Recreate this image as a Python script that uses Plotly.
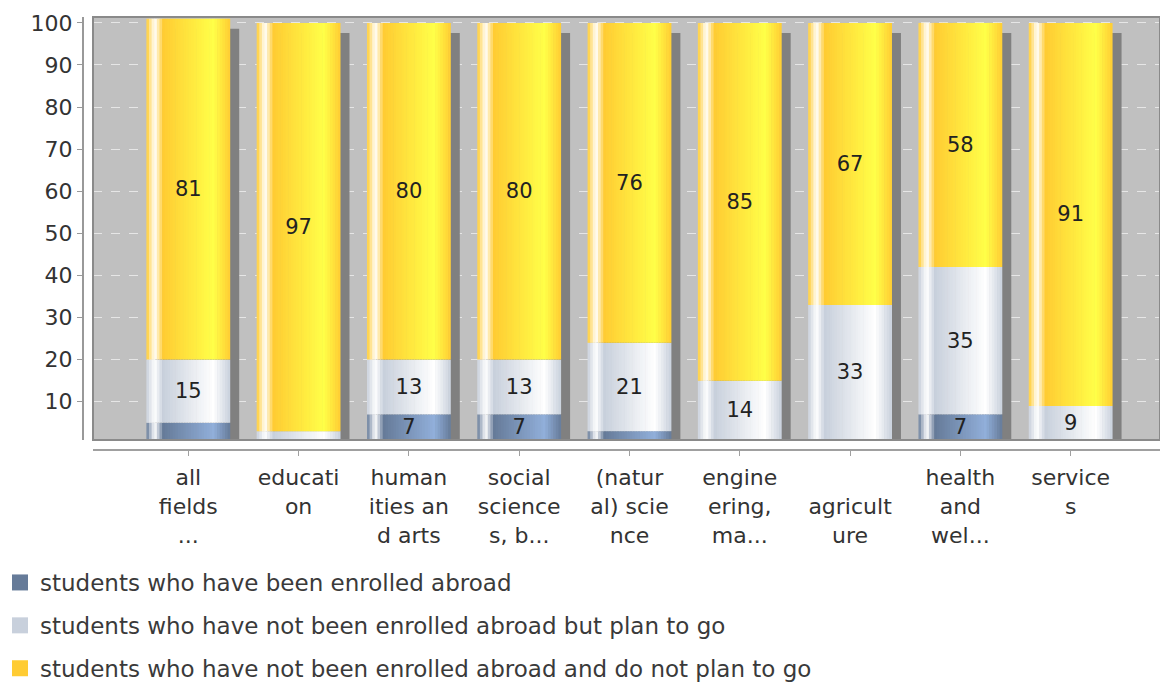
import plotly.graph_objects as go

# ---------------- data ----------------
categories = ["all fields ...", "education", "humanities and arts", "social sciences, b...",
              "(natural) science", "engineering, ma...", "agriculture", "health and wel...", "services"]
tick_labels = ["all<br>fields<br>...", "educati<br>on", "human<br>ities an<br>d arts",
               "social<br>science<br>s, b...", "(natur<br>al) scie<br>nce", "engine<br>ering,<br>ma...",
               " <br>agricult<br>ure", "health<br>and<br>wel...", "service<br>s"]
series_names = ["students who have been enrolled abroad",
                "students who have not been enrolled abroad but plan to go",
                "students who have not been enrolled abroad and do not plan to go"]
enrolled = [5, 0, 7, 7, 3, 1, 0, 7, 0]
plan_to_go = [15, 3, 13, 13, 21, 14, 33, 35, 9]
not_plan = [81, 97, 80, 80, 76, 85, 67, 58, 91]

# ---------------- style ----------------
W, H = 1160, 682
base_colors = [(102, 123, 153), (200, 208, 220), (255, 204, 51)]
Y0, Y1 = 0.9, 101.4
BAR_W = 0.76
N_STRIPS = 32
FONT = "DejaVu Sans"

px_per_unit = (440 - 17) / (Y1 - Y0)
px_per_cat = (W - 93) / (8.81 + 0.864)
shadow_dx = 9 / px_per_cat
shadow_dy = 10 / px_per_unit


def hexc(c):
    return "#%02x%02x%02x" % tuple(int(round(v)) for v in c)


def mix(a, b, f):
    return tuple(a[i] + (b[i] - a[i]) * f for i in range(3))


def grad_color(c0, t):
    c1 = tuple(min(255, int(v / 0.7)) for v in c0)
    white = (255, 255, 255)
    if t < 0.1:
        return hexc(mix(c0, white, t / 0.1))
    if t < 0.2:
        return hexc(mix(white, c0, (t - 0.1) / 0.1))
    if t < 0.8:
        return hexc(mix(c0, c1, (t - 0.2) / 0.6))
    return hexc(mix(c1, c0, (t - 0.8) / 0.2))


series_vals = [enrolled, plan_to_go, not_plan]
bases = []
cum = [0] * len(categories)
for vals in series_vals:
    bases.append(list(cum))
    cum = [c + v for c, v in zip(cum, vals)]
totals = cum

fig = go.Figure()

# shadows
fig.add_trace(go.Bar(
    x=categories, y=[t - shadow_dy for t in totals], base=[0] * len(categories),
    width=BAR_W, offset=-BAR_W / 2 + shadow_dx,
    marker=dict(color="#808080", line=dict(width=0)),
    showlegend=False, hoverinfo="skip"))

# gradient bars (strips)
sw = BAR_W / N_STRIPS
for s, vals in enumerate(series_vals):
    for j in range(N_STRIPS):
        t = (j + 0.5) / N_STRIPS
        w = sw * 1.25 if j < N_STRIPS - 1 else sw
        fig.add_trace(go.Bar(
            x=categories, y=vals, base=bases[s],
            width=w, offset=-BAR_W / 2 + j * sw,
            marker=dict(color=grad_color(base_colors[s], t), line=dict(width=0)),
            showlegend=False, hoverinfo="skip"))

# value labels
for s, vals in enumerate(series_vals):
    vb = [max(b, Y0) for b in bases[s]]
    vh = [max(b + v - bb, 0) for b, v, bb in zip(bases[s], vals, vb)]
    txt = [str(v) if v >= 6 else "" for v in vals]
    fig.add_trace(go.Bar(
        x=categories, y=vh, base=vb, width=BAR_W, offset=-BAR_W / 2,
        marker=dict(color="rgba(0,0,0,0)", line=dict(width=0)),
        text=txt, textposition="inside", insidetextanchor="middle", textangle=0,
        constraintext="none", textfont=dict(family=FONT, size=21, color="#222222"),
        showlegend=False, hoverinfo="skip"))

# legend entries
for s, name in enumerate(series_names):
    fig.add_trace(go.Scatter(
        x=[None], y=[None], mode="markers", name=name, legendgroup="g%d" % s,
        marker=dict(symbol="square", size=16, color=hexc(base_colors[s]))))

fig.update_layout(
    width=W, height=H,
    margin=dict(l=0, r=0, t=0, b=0, autoexpand=False),
    barmode="overlay",
    plot_bgcolor="#c0c0c0", paper_bgcolor="white",
    font=dict(family=FONT, size=22, color="#333333"),
    showlegend=True,
    legend=dict(x=0.0, xanchor="left", y=1 - 561 / H, yanchor="top",
                orientation="v", tracegroupgap=10, bgcolor="rgba(0,0,0,0)",
                font=dict(family=FONT, size=23, color="#3a3a3a")),
    xaxis=dict(domain=[93 / W, 1], range=[-0.864, 8.81], type="category",
               anchor="free", position=1 - 450 / H, automargin=False,
               showline=True, linecolor="#a0a0a0", linewidth=2,
               ticks="outside", ticklen=5, tickcolor="#a0a0a0",
               tickvals=categories, ticktext=tick_labels, ticklabelstandoff=3,
               tickfont=dict(family=FONT, size=22, color="#333333"),
               showgrid=False, zeroline=False, fixedrange=True),
    yaxis=dict(domain=[1 - 440 / H, 1 - 17 / H], range=[Y0, Y1],
               anchor="free", position=83 / W, automargin=False,
               tick0=0, dtick=10,
               showgrid=True, gridcolor="#e6e6e6", griddash="dash", gridwidth=1,
               showline=True, linecolor="#999999", linewidth=2,
               ticks="outside", ticklen=5, tickcolor="#999999",
               tickfont=dict(family=FONT, size=22, color="#333333"),
               zeroline=False, fixedrange=True),
    shapes=[dict(type="rect", xref="x domain", yref="y domain", x0=0, x1=1, y0=0, y1=1,
                 line=dict(color="#8a8a8a", width=2), fillcolor="rgba(0,0,0,0)", layer="above")],
)

fig.write_html("out.html", config={"displayModeBar": False},
               post_script="document.body.style.margin='0';document.body.style.overflow='hidden';")
